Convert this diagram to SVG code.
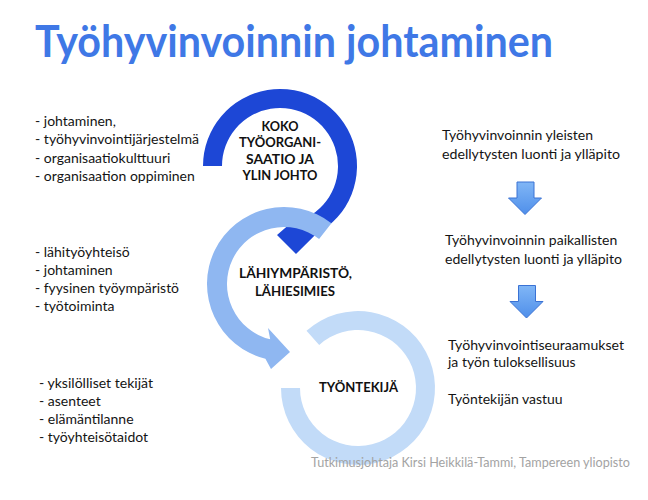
<svg xmlns="http://www.w3.org/2000/svg" width="648" height="500" viewBox="0 0 648 500">
  <defs>
    <linearGradient id="arrowFill" x1="0" y1="0" x2="0" y2="1">
      <stop offset="0" stop-color="#80b6f6"/>
      <stop offset="1" stop-color="#4f8fea"/>
    </linearGradient>
  </defs>
  <style>
    .title { font-family: Lato, "Liberation Sans", sans-serif; font-weight: 700; font-size: 44px; fill: #3f78e6; }
    .body { font-family: Lato, "Liberation Sans", sans-serif; font-size: 14px; fill: #141414; }
    .label { font-family: Lato, "Liberation Sans", sans-serif; font-weight: 700; font-size: 14px; fill: #111; text-anchor: middle; }
    .foot { font-family: Lato, "Liberation Sans", sans-serif; font-size: 12.6px; fill: #a3a3a3; }
    .down { fill: url(#arrowFill); stroke: #3a72d4; stroke-width: 1; stroke-linejoin: miter; }
  </style>
  <rect width="648" height="500" fill="#ffffff"/>

  <text class="title" x="35" y="57" textLength="518" lengthAdjust="spacingAndGlyphs">Työhyvinvoinnin johtaminen</text>

  <g id="node-organisaatio">
    <path fill="#1d47d6" d="M203,166 A77,77 0 1 1 316.15,233.98 L296,254 L277,235 L299,216 L307.23,217.21 A58,58 0 1 0 222,166 Z"/>
    <text class="label" x="280" y="131" textLength="37" lengthAdjust="spacingAndGlyphs">KOKO</text>
    <text class="label" x="280" y="147" textLength="82" lengthAdjust="spacingAndGlyphs">TYÖORGANI-</text>
    <text class="label" x="280" y="164" textLength="68" lengthAdjust="spacingAndGlyphs">SAATIO JA</text>
    <text class="label" x="280" y="180" textLength="75" lengthAdjust="spacingAndGlyphs">YLIN JOHTO</text>
  </g>

  <g id="node-lahiymparisto">
    <path fill="#8fb7f1" d="M331.4,223.3 A77,77 0 1 0 265.4,358.7 L271,369 L290,352 L268,328 L270.2,339.3 A57,57 0 1 1 319.1,239.1 Z"/>
    <text class="label" x="295.5" y="278" textLength="113" lengthAdjust="spacingAndGlyphs">LÄHIYMPÄRISTÖ,</text>
    <text class="label" x="295" y="296" textLength="80" lengthAdjust="spacingAndGlyphs">LÄHIESIMIES</text>
  </g>

  <g id="node-tyontekija">
    <path fill="#c2dbf8" d="M281,388 A77,77 0 1 0 306.5,330.8 L319.2,344.9 A58,58 0 1 1 300,388 Z"/>
    <text class="label" x="358.5" y="392" textLength="79" lengthAdjust="spacingAndGlyphs">TYÖNTEKIJÄ</text>
  </g>

  <g id="list-organisaatio">
    <text class="body" x="35" y="126">- johtaminen,</text>
    <text class="body" x="35" y="144" textLength="164" lengthAdjust="spacingAndGlyphs">- työhyvinvointijärjestelmä</text>
    <text class="body" x="35" y="163">- organisaatiokulttuuri</text>
    <text class="body" x="35" y="181">- organisaation oppiminen</text>
  </g>

  <g id="list-lahiymparisto">
    <text class="body" x="35" y="257">- lähityöyhteisö</text>
    <text class="body" x="35" y="275">- johtaminen</text>
    <text class="body" x="35" y="293" textLength="144" lengthAdjust="spacingAndGlyphs">- fyysinen työympäristö</text>
    <text class="body" x="35" y="311">- työtoiminta</text>
  </g>

  <g id="list-tyontekija">
    <text class="body" x="39" y="388" textLength="114" lengthAdjust="spacingAndGlyphs">- yksilölliset tekijät</text>
    <text class="body" x="39" y="406">- asenteet</text>
    <text class="body" x="39" y="424">- elämäntilanne</text>
    <text class="body" x="39" y="442">- työyhteisötaidot</text>
  </g>

  <g id="step-yleiset">
    <text class="body" x="442" y="140">Työhyvinvoinnin yleisten</text>
    <text class="body" x="442" y="159" textLength="178" lengthAdjust="spacingAndGlyphs">edellytysten luonti ja ylläpito</text>
  </g>
  <g id="step-paikalliset">
    <text class="body" x="445" y="245">Työhyvinvoinnin paikallisten</text>
    <text class="body" x="445" y="264" textLength="177" lengthAdjust="spacingAndGlyphs">edellytysten luonti ja ylläpito</text>
  </g>
  <g id="step-seuraamukset">
    <text class="body" x="448" y="350" textLength="176" lengthAdjust="spacingAndGlyphs">Työhyvinvointiseuraamukset</text>
    <text class="body" x="448" y="367">ja työn tuloksellisuus</text>
    <text class="body" x="448" y="404">Työntekijän vastuu</text>
  </g>

  <g id="connectors">
    <polygon class="down" points="517,182 534,182 534,198 541.5,198 525,214.5 508.5,198 517,198"/>
    <polygon class="down" points="518.5,285.5 535.5,285.5 535.5,301.5 543,301.5 526.5,318 510,301.5 518.5,301.5"/>
  </g>

  <text class="foot" x="311" y="467" textLength="319" lengthAdjust="spacingAndGlyphs">Tutkimusjohtaja Kirsi Heikkilä-Tammi, Tampereen yliopisto</text>
</svg>
